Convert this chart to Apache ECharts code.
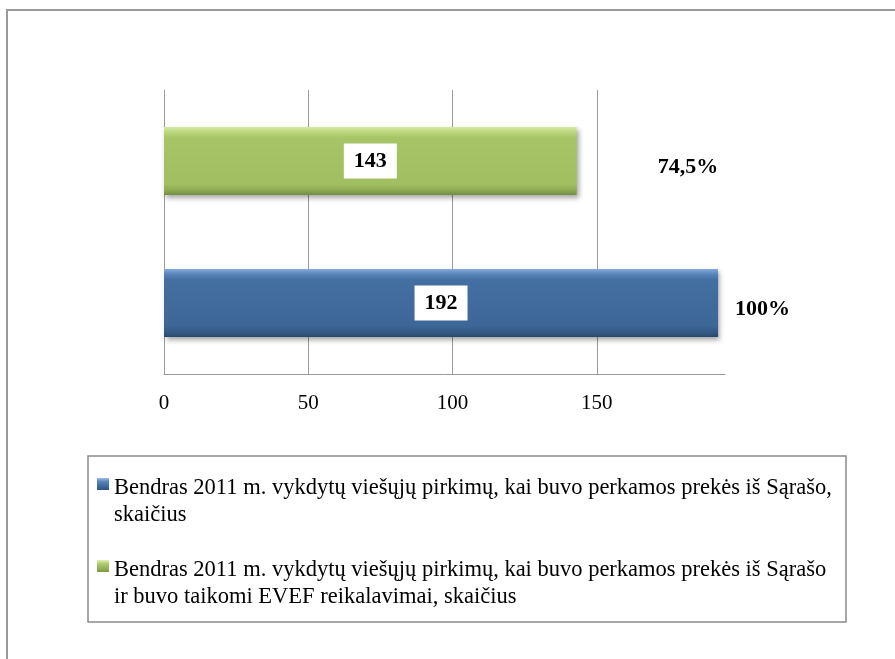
<!DOCTYPE html>
<html>
<head>
<meta charset="utf-8">
<script src="https://cdn.jsdelivr.net/npm/echarts@6/dist/echarts.min.js"></script>
<style>
html,body{margin:0;padding:0;background:#fff;}
#chart{width:895px;height:659px;}
</style>
</head>
<body>
<div id="chart"></div>
<script>
// ---- data ----
var categories = ['Bendras', 'EVEF'];
var seriesNames = [
  'Bendras 2011 m. vykdytų viešųjų pirkimų, kai buvo perkamos prekės iš Sąrašo, skaičius',
  'Bendras 2011 m. vykdytų viešųjų pirkimų, kai buvo perkamos prekės iš Sąrašo ir buvo taikomi EVEF reikalavimai, skaičius'
];
var legendLines = [
  'Bendras 2011 m. vykdytų viešųjų pirkimų, kai buvo perkamos prekės iš Sąrašo,\nskaičius',
  'Bendras 2011 m. vykdytų viešųjų pirkimų, kai buvo perkamos prekės iš Sąrašo\nir buvo taikomi EVEF reikalavimai, skaičius'
];
var totalValues = [192, '-'];
var evefValues = ['-', 143];
var allValues = [192, 143];
var pctLabels = ['100%', '74,5%'];
var xTicks = [0, 50, 100, 150];
var xMax = 194.4;

var FONT = 'Liberation Serif';

function vgrad(stops) {
  return new echarts.graphic.LinearGradient(0, 0, 0, 1, stops.map(function (s) { return { offset: s[0], color: s[1] }; }));
}
var blueFill = vgrad([[0, '#86ABDB'], [0.07, '#5C88BE'], [0.16, '#446FA2'], [0.84, '#3D6797'], [0.93, '#345983'], [1, '#2A486B']]);
var greenFill = vgrad([[0, '#D6EBA3'], [0.07, '#BCD87F'], [0.16, '#A7C566'], [0.84, '#A1BF60'], [0.93, '#8EAA52'], [1, '#738B40']]);
var blueIcon = vgrad([[0, '#9DBDE6'], [0.08, '#5683BA'], [0.255, '#2E5384'], [1, '#2E5384']]);
var greenIcon = vgrad([[0, '#E0F0B0'], [0.08, '#AFCB6C'], [0.255, '#7F9A45'], [1, '#7F9A45']]);

var inLabel = {
  show: true,
  position: 'inside',
  formatter: '{c}',
  fontFamily: FONT,
  fontWeight: 'bold',
  fontSize: 22,
  color: '#000',
  backgroundColor: '#fff',
  padding: [7, 10, 6, 10]
};
var shadow = { shadowColor: 'rgba(0,0,0,0.35)', shadowBlur: 5, shadowOffsetX: 2, shadowOffsetY: 3 };

var chart = echarts.init(document.getElementById('chart'), null, { renderer: 'canvas' });
chart.setOption({
  animation: false,
  backgroundColor: '#fff',
  graphic: [{
    type: 'rect',
    shape: { x: 7, y: 10, width: 920, height: 700 },
    style: { fill: 'none', stroke: '#9a9a9a', lineWidth: 2 },
    silent: true
  }],
  grid: { left: 164, top: 90, right: 170, bottom: 285, containLabel: false },
  xAxis: {
    type: 'value',
    min: 0,
    max: xMax,
    interval: 50,
    axisLine: { show: true, lineStyle: { color: '#9a9a9a', width: 1 } },
    axisTick: { show: false },
    splitLine: { show: true, showMinLine: false, showMaxLine: false, lineStyle: { color: '#9a9a9a', width: 1 } },
    axisLabel: {
      showMaxLabel: false,
      margin: 19,
      fontFamily: FONT,
      fontSize: 21,
      color: '#000',
      formatter: function (v) { return xTicks.indexOf(v) >= 0 ? String(v) : ''; }
    }
  },
  yAxis: {
    type: 'category',
    data: categories,
    axisLine: { show: true, lineStyle: { color: '#9a9a9a', width: 1 } },
    axisTick: { show: false },
    axisLabel: { show: false },
    splitLine: { show: false }
  },
  legend: {
    orient: 'vertical',
    left: 88,
    top: 456,
    padding: [18.5, 14, 11.5, 9],
    borderColor: '#8a8a8a',
    borderWidth: 1.5,
    itemGap: 28,
    itemWidth: 12,
    itemHeight: 47,
    icon: 'path://M0,0L12,0L12,12L0,12Z M0,47L12,47',
    selectedMode: false,
    data: [
      { name: seriesNames[0], itemStyle: { color: blueIcon, borderWidth: 0 } },
      { name: seriesNames[1], itemStyle: { color: greenIcon, borderWidth: 0 } }
    ],
    formatter: function (name) { return legendLines[seriesNames.indexOf(name)]; },
    textStyle: { fontFamily: FONT, fontSize: 22.5, lineHeight: 27, color: '#000', width: 718 }
  },
  series: [
    {
      name: seriesNames[0],
      type: 'bar',
      data: totalValues,
      barWidth: 68,
      barGap: '-100%',
      itemStyle: Object.assign({ color: blueFill }, shadow),
      label: inLabel
    },
    {
      name: seriesNames[1],
      type: 'bar',
      data: evefValues,
      barWidth: 68,
      barGap: '-100%',
      itemStyle: Object.assign({ color: greenFill }, shadow),
      label: inLabel
    },
    {
      name: 'pct',
      type: 'bar',
      data: allValues.map(function (v, i) {
        return i === 1 ? { value: v, label: { offset: [64, 6] } } : { value: v };
      }),
      barWidth: 68,
      barGap: '-100%',
      silent: true,
      itemStyle: { color: 'rgba(0,0,0,0)' },
      label: {
        show: true,
        position: 'right',
        distance: 17,
        offset: [0, 6],
        fontFamily: FONT,
        fontWeight: 'bold',
        fontSize: 22,
        color: '#000',
        formatter: function (p) { return pctLabels[p.dataIndex]; }
      }
    }
  ]
});
</script>
</body>
</html>
